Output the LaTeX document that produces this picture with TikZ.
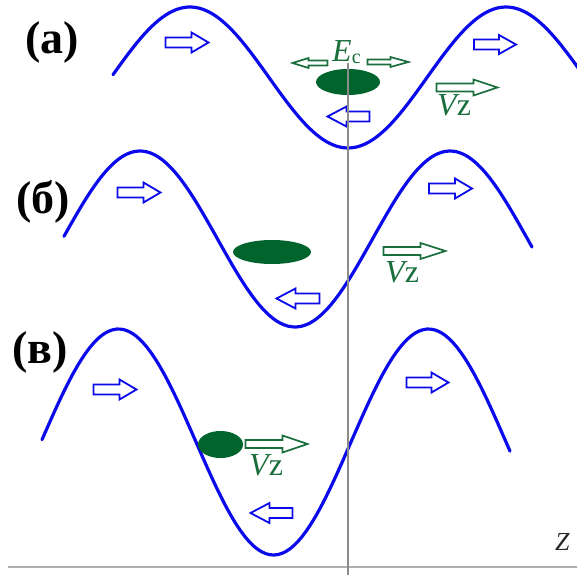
\documentclass[tikz,border=0pt]{standalone}
\usepackage{fontspec}
\setmainfont{Liberation Serif}
\definecolor{wblue}{RGB}{10,10,235}
\definecolor{dgreen}{RGB}{0,100,45}
\definecolor{tgreen}{RGB}{25,110,60}
\definecolor{axgray}{RGB}{175,175,175}
\definecolor{vgray}{RGB}{140,140,140}
\tikzset{
  wave/.style={wblue, line width=3.2pt, line cap=round},
  barr/.style={draw=wblue, line width=1.8pt, fill=white, line join=miter},
  garr/.style={draw=tgreen, line width=1.7pt, fill=white, line join=miter},
  blob/.style={fill=dgreen, draw=none},
  axisline/.style={draw=axgray, line width=1.8pt},
  vline/.style={draw=vgray, line width=1.2pt},
  panellabel/.style={font=\fontsize{46}{46}\selectfont\bfseries, inner sep=0pt},
  vlabel/.style={text=tgreen, font=\fontsize{32}{32}\selectfont, inner sep=0pt, anchor=base west},
  toright/.style={},
  toleft/.style={xscale=-1},
}
% #1 style, #2 x, #3 y, #4 length, #5 shaft half-height, #6 head half-height, #7 head length, #8 direction
\newcommand\blockarr[8]{%
  \draw[#1,shift={(#2,#3)},#8] (-#4/2,-#5) -- (#4/2-#7,-#5) -- (#4/2-#7,-#6) -- (#4/2,0)
    -- (#4/2-#7,#6) -- (#4/2-#7,#5) -- (-#4/2,#5) -- cycle;}
\begin{document}
\begin{tikzpicture}[x=1pt,y=-1pt]
\useasboundingbox (0,0) rectangle (577,575);
% axis
\draw[axisline] (8,567) coordinate (axL) -- (577,567) coordinate (axR);
\node[inner sep=0pt, anchor=base west, text={rgb,255:red,40;green,40;blue,40}, font=\fontsize{26}{26}\selectfont\itshape] (zlab) at (555,550) {Z};
% waves
\draw[wave] plot[domain=113:580, samples=120, smooth] (\x,{77.5-70.5*cos((180/158)*(\x-190))});
\draw[wave] plot[domain=64:532, samples=120, smooth] (\x,{239-88*cos((180/155)*(\x-140))});
\draw[wave] plot[domain=42:510, samples=120, smooth] (\x,{442-113*cos((180/155)*(\x-118.5))});
% panel labels
\node[panellabel] (la) at (52,42) {(а)};
\node[panellabel] (lb) at (43,202) {(б)};
\node[panellabel] (lc) at (40,352) {(в)};
% (a)
\blockarr{barr}{187}{42.5}{43}{5}{10}{17}{toright}
\blockarr{barr}{495}{44.5}{42}{5}{9.5}{17}{toright}
\blockarr{barr}{348.5}{116.5}{42}{5}{10}{19}{toleft}
\blockarr{garr}{310}{63}{35}{2.5}{5}{16}{toleft}
\blockarr{garr}{388}{62}{41}{2.5}{5}{18}{toright}
\blockarr{garr}{467}{87.5}{61}{4}{8}{24}{toright}
\fill[blob] (348,82) ellipse [x radius=32pt, y radius=13pt];
\node[vlabel] (vza) at (437,115) {\itshape V\upshape z};
\node[vlabel] (ec) at (332,62) {\itshape E\upshape\raisebox{-2pt}{\fontsize{20}{20}\selectfont c}};
% (b)
\blockarr{barr}{139}{192.5}{43}{5}{10}{17}{toright}
\blockarr{barr}{450.5}{188.5}{43}{5}{10}{17}{toright}
\blockarr{barr}{298}{298.5}{43}{5}{10}{19}{toleft}
\blockarr{garr}{414.5}{251}{62}{4}{8}{25}{toright}
\fill[blob] (272,252) ellipse [x radius=39pt, y radius=12pt];
\node[vlabel] (vzb) at (385,282) {\itshape V\upshape z};
% (c)
\blockarr{barr}{115}{389.5}{43}{5}{10}{17}{toright}
\blockarr{barr}{427.5}{382.5}{42}{5}{10}{17}{toright}
\blockarr{barr}{271.5}{513}{42}{5}{10}{19}{toleft}
\blockarr{garr}{276.5}{444}{62}{4}{8.5}{25}{toright}
\fill[blob] (220.5,444.5) ellipse [x radius=22.5pt, y radius=13.5pt];
\node[vlabel] (vzc) at (249,475) {\itshape V\upshape z};
% vertical reference line
\draw[vline] (348,63) coordinate (vT) -- (348,575) coordinate (vB);
\end{tikzpicture}
\end{document}
